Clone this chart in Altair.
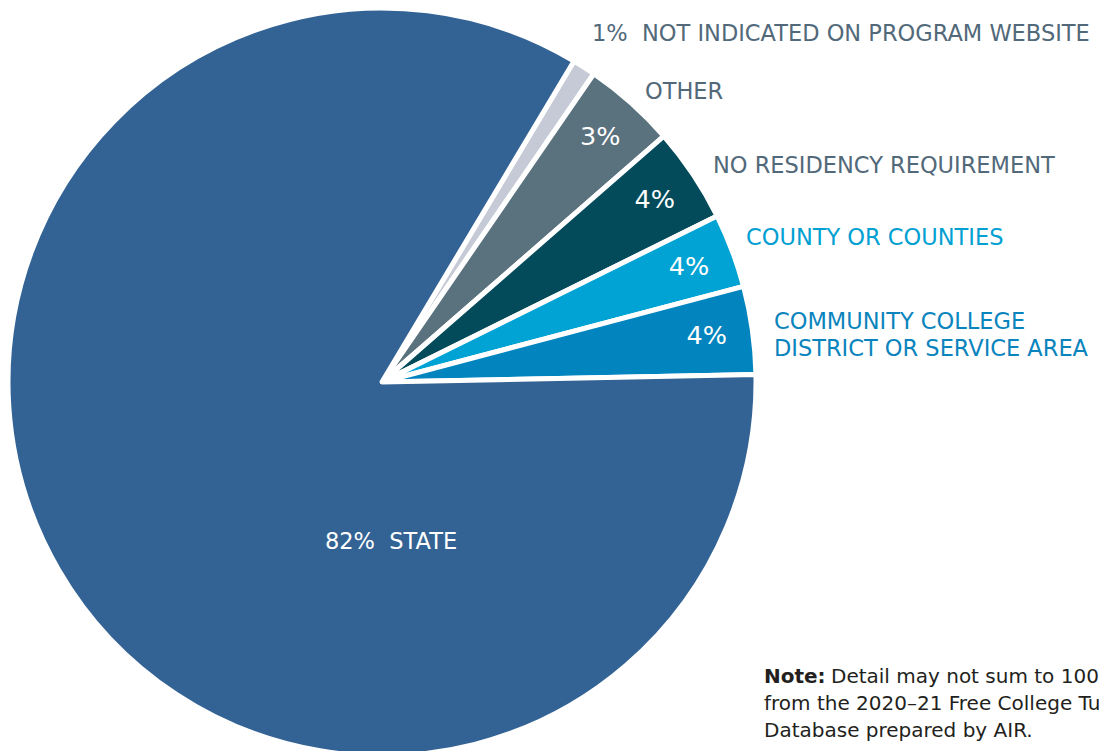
import math
import altair as alt
import pandas as pd

# Data (shares)
categories = [
    "Not indicated on program website",
    "Other",
    "No residency requirement",
    "County or counties",
    "Community college district or service area",
    "State",
]
shares = [1.0, 4.0, 4.1, 3.2, 3.8, 83.9]
inner_labels = ["", "3%", "4%", "4%", "4%", ""]
slice_colors = ["#c5cad6", "#5a717e", "#034b5b", "#00a3d3", "#0284be", "#336394"]

df = pd.DataFrame({
    "category": categories,
    "share": shares,
    "label": inner_labels,
    "ord": list(range(len(categories))),
})

start = math.radians(30.9)
theta_scale = alt.Scale(range=[start, start + 2 * math.pi])
color_scale = alt.Scale(domain=categories, range=slice_colors)

CX, CY = 382, 382
FONT = "DejaVu Sans"
NB = "\u00a0"

base = alt.Chart(df).encode(
    theta=alt.Theta("share:Q", stack=True, scale=theta_scale),
    order=alt.Order("ord:Q"),
)

pie = base.mark_arc(radius=374, stroke="white", strokeWidth=5, strokeJoin="round").encode(
    color=alt.Color("category:N", scale=color_scale, legend=None),
    x=alt.value(CX),
    y=alt.value(CY),
)

inner = base.mark_text(radius=328, font=FONT, fontSize=25.5, color="white",
                       align="center", baseline="middle").encode(
    text="label:N",
    x=alt.value(CX),
    y=alt.value(CY),
)

gray = "#52697a"

def label(text, x, y, color, size=22.5, weight="normal", align="left", font=FONT):
    return alt.Chart(pd.DataFrame({"t": [text]})).mark_text(
        x=x, y=y, align=align, baseline="alphabetic", font=font,
        fontSize=size, fontWeight=weight, color=color,
    ).encode(text="t:N")

labels = [
    label("1%" + NB + NB + "NOT INDICATED ON PROGRAM WEBSITE", 592, 41, gray),
    label("OTHER", 645, 99, gray),
    label("NO RESIDENCY REQUIREMENT", 713, 173, gray),
    label("COUNTY OR COUNTIES", 746, 245, "#00a0d2"),
    label("COMMUNITY COLLEGE", 774, 329, "#0a84bd"),
    label("DISTRICT OR SERVICE AREA", 774, 356, "#0a84bd"),
    label("82%" + NB + NB + "STATE", 391, 549, "white", size=22.5, align="center"),
]

note_color = "#231f20"
note = [
    label("Note:", 764, 683, note_color, size=20, weight="bold"),
    label("Detail may not sum to 100% because of rounding. Source: Data", 831, 683, note_color, size=20),
    label("from the 2020\u201321 Free College Tuition Program", 764, 710, note_color, size=20),
    label("Database prepared by AIR.", 764, 737, note_color, size=20),
]

chart = alt.layer(pie, inner, *labels, *note).properties(
    width=1099, height=751,
    autosize=alt.AutoSizeParams(type="none"),
    padding=0,
).configure_view(stroke=None)

chart.save("out.html", embed_options={"renderer": "svg", "actions": False})
